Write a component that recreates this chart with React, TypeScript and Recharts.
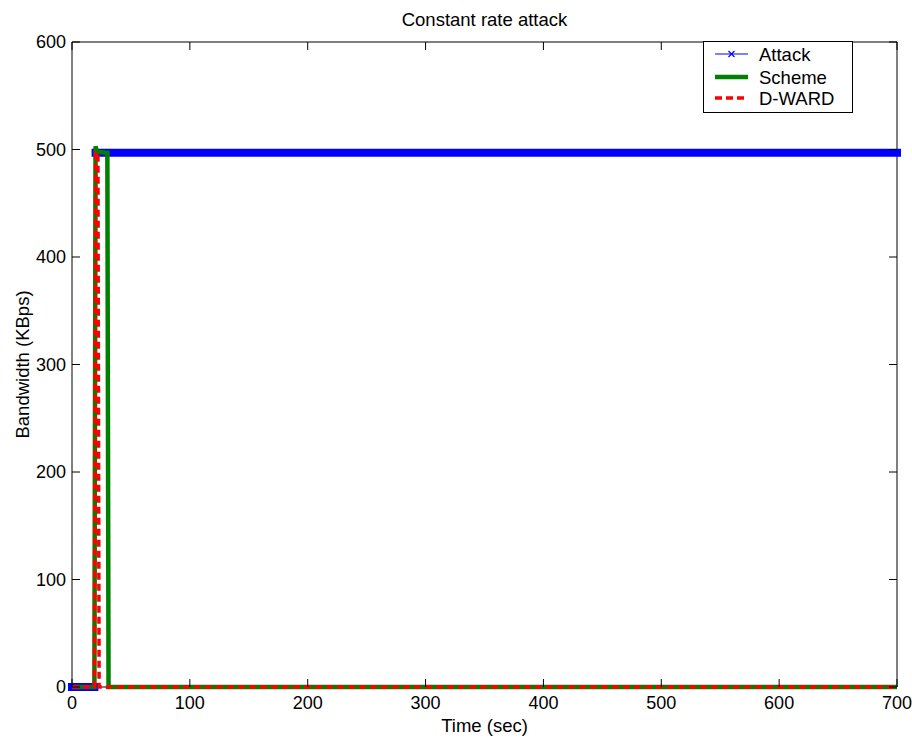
import React from 'react';
import { LineChart, Line, XAxis, YAxis, ReferenceArea, Legend } from 'recharts';

// values (time in sec, bandwidth in KBps)
const attackTime = [0, 19, 20, 700];
const attackBw = [0, 0, 497, 497];

const schemeTime = [0, 19, 20, 21, 30, 31, 700];
const schemeBw = [0, 0, 503, 498, 497, 0, 0];

const dwardTime = [0, 19, 20, 22, 23, 700];
const dwardBw = [0, 0, 497, 497, 0, 0];

const xTicks = [0, 100, 200, 300, 400, 500, 600, 700];
const yTicks = [0, 100, 200, 300, 400, 500, 600];

const FONT = '"Liberation Sans", Arial, Helvetica, sans-serif';
const FS = 18.5;
const TICK_FS = 18;
const PLOT = { left: 72, right: 897, top: 42, bottom: 687 };

const toPoints = (ts: number[], vs: number[]) => ts.map((t, i) => ({ t, v: vs[i] as number | null }));

const attackData = toPoints(attackTime, attackBw);
const schemeData = toPoints(schemeTime, schemeBw);
const dwardData = toPoints(dwardTime, dwardBw);

// the dense 'x' markers make a solid band; break it where the series jumps
const attackBand = [
  ...attackData.slice(0, 2),
  { t: attackTime[2], v: null },
  ...attackData.slice(2),
];

const YTick = (props: any) => {
  const { y, payload } = props;
  return (
    <g>
      <text x={66} y={y} textAnchor="end" dominantBaseline="central" fontSize={TICK_FS} fontFamily={FONT} fill="#000">
        {payload.value}
      </text>
      <line x1={PLOT.left} x2={PLOT.left + 8} y1={y} y2={y} stroke="#000" />
      <line x1={PLOT.right - 8} x2={PLOT.right} y1={y} y2={y} stroke="#000" />
    </g>
  );
};

const XTick = (props: any) => {
  const { x, payload } = props;
  return (
    <g>
      <text x={x} y={703} textAnchor="middle" dominantBaseline="central" fontSize={TICK_FS} fontFamily={FONT} fill="#000">
        {payload.value}
      </text>
      <line x1={x} x2={x} y1={PLOT.bottom} y2={PLOT.bottom - 8} stroke="#000" />
      <line x1={x} x2={x} y1={PLOT.top} y2={PLOT.top + 8} stroke="#000" />
    </g>
  );
};

const LegendBox = () => (
  <div style={{ width: 150, height: 72, border: '1px solid #000', background: '#fff', boxSizing: 'border-box' }}>
    <svg width={148} height={70} style={{ display: 'block' }}>
      <line x1={11} x2={44} y1={12} y2={12} stroke="#0000ff" strokeWidth={1.2} />
      <path d="M24.5,9 L30.5,15 M24.5,15 L30.5,9" stroke="#0000ff" strokeWidth={1.2} />
      <text x={55} y={12} dominantBaseline="central" fontSize={FS} fontFamily={FONT} fill="#000">Attack</text>

      <line x1={11} x2={44} y1={35} y2={35} stroke="#008000" strokeWidth={4.5} />
      <text x={55} y={35} dominantBaseline="central" fontSize={FS} fontFamily={FONT} fill="#000">Scheme</text>

      <line x1={11} x2={44} y1={56} y2={56} stroke="#ff0000" strokeWidth={3.5} strokeDasharray="7 4" />
      <text x={55} y={56} dominantBaseline="central" fontSize={FS} fontFamily={FONT} fill="#000">D-WARD</text>
    </svg>
  </div>
);

export default function App() {
  return (
    <div style={{ position: 'absolute', left: 0, top: 0, width: 912, height: 738, background: '#fff', fontFamily: FONT }}>
      <div style={{ position: 'absolute', left: PLOT.left, width: PLOT.right - PLOT.left, top: 9, textAlign: 'center', fontSize: FS, lineHeight: '22px', color: '#000' }}>
        Constant rate attack
      </div>
      <LineChart width={912} height={738} margin={{ top: 42, right: 15, bottom: 0, left: 0 }}>
        <XAxis
          dataKey="t"
          type="number"
          domain={[0, 700]}
          ticks={xTicks}
          height={51}
          axisLine={false}
          tickLine={false}
          tick={<XTick />}
          interval={0}
          label={() => (
            <text x={484.5} y={725} textAnchor="middle" dominantBaseline="central" fontSize={FS} fontFamily={FONT} fill="#000">
              Time (sec)
            </text>
          )}
        />
        <YAxis
          type="number"
          domain={[0, 600]}
          ticks={yTicks}
          width={72}
          axisLine={false}
          tickLine={false}
          tick={<YTick />}
          interval={0}
          label={() => (
            <text x={22} y={364.5} transform="rotate(-90 22 364.5)" textAnchor="middle" dominantBaseline="central" fontSize={FS} fontFamily={FONT} fill="#000">
              Bandwidth (KBps)
            </text>
          )}
        />
        <ReferenceArea x1={0} x2={700} y1={0} y2={600} fill="none" stroke="#000" strokeWidth={1} ifOverflow="visible" />
        <Line data={attackBand} dataKey="v" type="linear" stroke="#0000ff" strokeWidth={8} strokeLinecap="square" dot={false} activeDot={false} legendType="none" isAnimationActive={false} />
        <Line data={attackData} dataKey="v" name="Attack" type="linear" stroke="#0000ff" strokeWidth={1.2} dot={false} activeDot={false} isAnimationActive={false} />
        <Line data={schemeData} dataKey="v" name="Scheme" type="linear" stroke="#008000" strokeWidth={4.5} dot={false} activeDot={false} isAnimationActive={false} />
        <Line data={dwardData} dataKey="v" name="D-WARD" type="linear" stroke="#ff0000" strokeWidth={3.5} strokeDasharray="7 4" dot={false} activeDot={false} isAnimationActive={false} />
        <Legend
          layout="vertical"
          verticalAlign="middle"
          align="center"
          content={() => <LegendBox />}
          wrapperStyle={{ position: 'absolute', left: 703, top: 41, width: 150, height: 72 }}
        />
      </LineChart>
    </div>
  );
}
